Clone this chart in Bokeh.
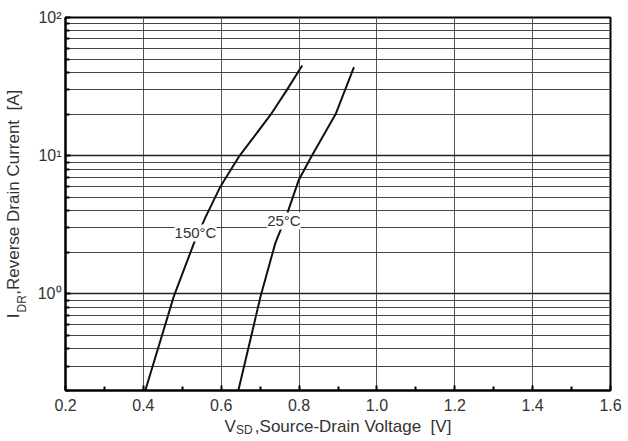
import math
from bokeh.plotting import figure
from bokeh.models import FixedTicker, Label, NumeralTickFormatter, CustomJSTickFormatter
from bokeh.embed import file_html
from bokeh.resources import INLINE

# ---- data ----
v_150 = [0.405, 0.478, 0.530, 0.560, 0.596, 0.608, 0.645, 0.727, 0.768, 0.808]
i_150 = [0.2, 0.956, 2.33, 3.61, 5.83, 6.65, 9.8, 19.8, 29.7, 45.0]

v_25 = [0.644, 0.701, 0.739, 0.770, 0.799, 0.831, 0.894, 0.941]
i_25 = [0.2, 0.956, 2.33, 3.84, 6.65, 9.8, 20.0, 43.8]

x_ticks = [0.2, 0.4, 0.6, 0.8, 1.0, 1.2, 1.4, 1.6]
x_minor = [0.3, 0.5, 0.7, 0.9, 1.1, 1.3, 1.5]
y_ticks = [1, 10, 100]
y_minor = [0.2, 0.3, 0.4, 0.5, 0.6, 0.7, 0.8, 0.9,
           2, 3, 4, 5, 6, 7, 8, 9,
           20, 30, 40, 50, 60, 70, 80, 90]

curve_labels = ["150°C", "25°C"]
curve_label_pos = [(0.534, 2.76), (0.761, 3.37)]

NB = "\u00a0"
x_title = "V" + NB * 4 + ",Source-Drain Voltage" + NB * 2 + "[V]"
x_title_sub = "SD"
y_title = "I" + NB * 4 + ",Reverse Drain Current" + NB * 2 + "[A]"
y_title_sub = "DR"

FONT = "Liberation Sans"
TXT = "#333333"

p = figure(width=628, height=441, x_range=(0.2, 1.6), y_range=(0.2, 100),
           y_axis_type="log", output_backend="svg", toolbar_location=None,
           min_border_left=65, min_border_right=18, min_border_top=17,
           min_border_bottom=51)
p.background_fill_color = "white"
p.border_fill_color = "white"
p.outline_line_color = "black"
p.outline_line_width = 2

xt = FixedTicker(ticks=x_ticks, minor_ticks=x_minor)
yt = FixedTicker(ticks=y_ticks, minor_ticks=y_minor)
p.xaxis.ticker = xt
p.yaxis.ticker = yt
p.xgrid.ticker = xt
p.ygrid.ticker = yt

p.xaxis.formatter = NumeralTickFormatter(format="0.0")
p.yaxis.formatter = CustomJSTickFormatter(code="""
const sup = {"-1": "\u207b\u00b9", "0": "\u2070", "1": "\u00b9", "2": "\u00b2"};
const e = Math.round(Math.log10(tick));
return "10" + sup[String(e)];
""")

for ax in (p.xaxis, p.yaxis):
    ax.axis_line_color = "black"
    ax.axis_line_width = 2
    ax.major_tick_in = 5
    ax.major_tick_out = 0
    ax.minor_tick_in = 4
    ax.minor_tick_out = 0
    ax.major_tick_line_color = "black"
    ax.minor_tick_line_color = "black"
    ax.major_tick_line_width = 2
    ax.minor_tick_line_width = 2
    ax.major_label_text_font = FONT
    ax.major_label_text_font_size = "16px"
    ax.major_label_text_color = TXT
    ax.axis_label_text_font = FONT
    ax.axis_label_text_font_size = "17px"
    ax.axis_label_text_font_style = "normal"
    ax.axis_label_text_color = TXT
p.xaxis.major_label_standoff = 8
p.yaxis.major_label_standoff = 4
p.xaxis.axis_label = x_title
p.yaxis.axis_label = y_title
p.xaxis.axis_label_standoff = 3
p.yaxis.axis_label_standoff = 12

p.xgrid.grid_line_color = "#555555"
p.xgrid.grid_line_width = 1
p.ygrid.grid_line_color = "#222222"
p.ygrid.grid_line_width = 1.5
p.ygrid.minor_grid_line_color = "#444444"
p.ygrid.minor_grid_line_width = 1

p.line(v_150, i_150, line_color="#111111", line_width=2)
p.line(v_25, i_25, line_color="#111111", line_width=2)

for txt, (lx, ly) in zip(curve_labels, curve_label_pos):
    p.add_layout(Label(x=lx, y=ly, text=txt, text_font=FONT, text_font_size="15px",
                       text_color=TXT, text_align="center", text_baseline="middle",
                       background_fill_color="white"))

# subscripts of the axis titles (placed in spare side panels so they are not clipped)
p.add_layout(Label(x=0.638, y=0.104, text=x_title_sub, text_font=FONT, text_font_size="12px",
                   text_color=TXT, text_align="left", text_baseline="middle"), "right")
p.add_layout(Label(x=0.087, y=0.735, text=y_title_sub, angle=math.pi / 2, text_font=FONT,
                   text_font_size="12px", text_color=TXT, text_align="left",
                   text_baseline="middle"), "above")

open("out.html", "w").write(file_html(p, INLINE))
